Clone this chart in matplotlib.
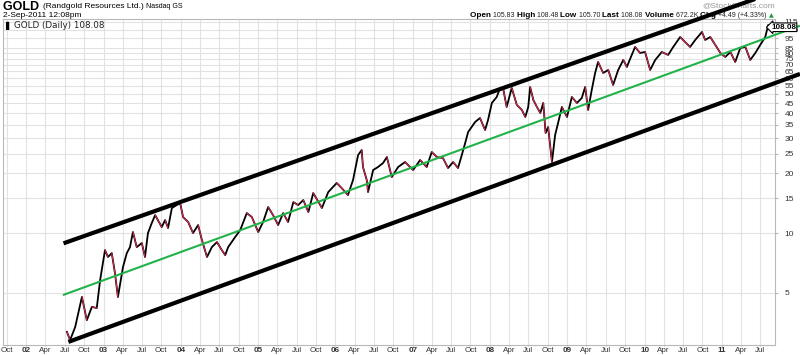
import numpy as np
import matplotlib
matplotlib.use("Agg")
import matplotlib.pyplot as plt
import matplotlib.dates as mdates
from matplotlib.ticker import FixedLocator, NullLocator
from matplotlib.transforms import blended_transform_factory

plt.rcParams["font.family"] = ["Liberation Sans", "DejaVu Sans"]

# GOLD daily close (approximate turning points)
dates = [
    "2002-07-12", "2002-07-27", "2002-08-20", "2002-09-21", "2002-10-14", "2002-11-07", "2002-11-30", "2002-12-16",
    "2003-01-08", "2003-01-22", "2003-02-09", "2003-02-24", "2003-03-10", "2003-04-03", "2003-04-21", "2003-05-06",
    "2003-05-20", "2003-06-07", "2003-07-01", "2003-07-16", "2003-07-30", "2003-08-17", "2003-09-02", "2003-10-03",
    "2003-10-19", "2003-11-02", "2003-11-20", "2003-12-13", "2003-12-29",
    "2004-01-12", "2004-02-05", "2004-02-28", "2004-03-23", "2004-04-10", "2004-05-04", "2004-05-27", "2004-06-20",
    "2004-07-13", "2004-07-29", "2004-08-12", "2004-09-14", "2004-10-08", "2004-11-08", "2004-12-02",
    "2005-01-01", "2005-01-24", "2005-02-17", "2005-03-12", "2005-04-05", "2005-04-29", "2005-05-22", "2005-06-16",
    "2005-07-09", "2005-08-02", "2005-08-26", "2005-09-18", "2005-10-29", "2005-11-28",
    "2006-01-07", "2006-01-30", "2006-03-01", "2006-03-25", "2006-04-18", "2006-05-05", "2006-05-11", "2006-05-29",
    "2006-06-04", "2006-06-28", "2006-07-21", "2006-08-14", "2006-09-01", "2006-09-24", "2006-10-24", "2006-11-26",
    "2007-01-03", "2007-02-05", "2007-03-08", "2007-04-01", "2007-04-25", "2007-05-24", "2007-06-17", "2007-07-11",
    "2007-08-03", "2007-08-21", "2007-09-06", "2007-09-20", "2007-10-23", "2007-11-15", "2007-12-09", "2007-12-23",
    "2008-01-10", "2008-02-02", "2008-02-18", "2008-03-03", "2008-03-20", "2008-04-13", "2008-05-07", "2008-05-31",
    "2008-06-16", "2008-06-30", "2008-07-09", "2008-07-24", "2008-08-10", "2008-08-26", "2008-09-09", "2008-09-20",
    "2008-10-02", "2008-10-20", "2008-11-04", "2008-11-18", "2008-12-06", "2008-12-30",
    "2009-01-22", "2009-02-15", "2009-03-10", "2009-03-26", "2009-04-09", "2009-04-26", "2009-05-12", "2009-05-26",
    "2009-06-19", "2009-07-13", "2009-08-05", "2009-08-29", "2009-09-22", "2009-10-09", "2009-11-01", "2009-11-17",
    "2009-12-10",
    "2010-01-03", "2010-01-27", "2010-02-20", "2010-03-23", "2010-04-22", "2010-05-16", "2010-06-18", "2010-07-11",
    "2010-08-04", "2010-08-28", "2010-09-29", "2010-10-14", "2010-11-07", "2010-12-01", "2010-12-25",
    "2011-01-17", "2011-02-10", "2011-03-05", "2011-03-29", "2011-04-22", "2011-05-15", "2011-06-08", "2011-07-01",
    "2011-07-25", "2011-08-08", "2011-08-25", "2011-09-02",
]
prices = [
    3.19, 2.90, 3.37, 4.78, 3.65, 4.26, 4.20, 5.81,
    8.21, 7.58, 7.93, 6.30, 4.77, 6.75, 7.93, 8.50,
    10.12, 8.50, 8.91, 7.58, 10.00, 11.23, 12.31, 10.72,
    11.62, 10.60, 13.36, 13.82, 14.15,
    12.03, 11.36, 10.00, 10.97, 9.22, 7.58, 8.50, 9.01,
    8.21, 7.75, 8.50, 9.55, 10.35, 12.60, 12.03,
    10.12, 11.36, 13.51, 12.31, 10.97, 12.60, 11.36, 14.31,
    13.82, 14.65, 12.75, 15.89, 13.36, 16.07,
    17.84, 16.84, 15.52, 18.46, 24.66, 26.12, 21.46, 18.46,
    16.07, 20.73, 21.46, 22.48, 24.09, 19.11, 21.46, 22.74,
    20.73, 23.27, 21.46, 25.53, 24.09, 23.81, 21.21, 22.74,
    21.21, 24.66, 28.34, 32.18, 36.13, 37.84, 32.93, 36.97,
    45.01, 48.25, 53.55, 53.55, 42.98, 53.55, 43.99, 41.51,
    38.28, 42.98, 54.17, 46.60, 42.98, 40.09, 45.01, 31.81,
    34.09, 22.74, 31.08, 35.71, 42.98, 38.28,
    48.25, 45.01, 47.69, 54.17, 41.51, 52.33, 63.68, 72.33,
    63.68, 65.95, 55.44, 65.95, 74.03, 68.28, 78.44, 86.04,
    80.26,
    81.20, 65.95, 74.03, 81.20, 78.44, 86.04, 96.58, 91.17,
    86.04, 93.29, 102.35, 93.29, 96.58, 88.03, 80.26,
    76.63, 81.20, 72.33, 85.05, 86.04, 74.03, 80.26, 88.03,
    96.58, 110.97, 102.35, 108.08,
]

# trend channel: (start date, start price, end date, end price)
upper_line = ["2002-06-26", 8.88, "2012-01-05", 180.0]
middle_line = ["2002-06-23", 4.88, "2012-01-05", 110.0]
lower_line = ["2002-07-19", 2.84, "2012-01-05", 63.0]

ytick_values = [5, 10, 15, 20, 25, 30, 35, 40, 45, 50, 55, 60, 65, 70, 75, 80, 85, 95, 105, 115]
xtick_dates = ["2001-10-01", "2002-01-01", "2002-04-01", "2002-07-01", "2002-10-01",
               "2003-01-01", "2003-04-01", "2003-07-01", "2003-10-01",
               "2004-01-01", "2004-04-01", "2004-07-01", "2004-10-01",
               "2005-01-01", "2005-04-01", "2005-07-01", "2005-10-01",
               "2006-01-01", "2006-04-01", "2006-07-01", "2006-10-01",
               "2007-01-01", "2007-04-01", "2007-07-01", "2007-10-01",
               "2008-01-01", "2008-04-01", "2008-07-01", "2008-10-01",
               "2009-01-01", "2009-04-01", "2009-07-01", "2009-10-01",
               "2010-01-01", "2010-04-01", "2010-07-01", "2010-10-01",
               "2011-01-01", "2011-04-01", "2011-07-01"]
month_names = {"04": "Apr", "07": "Jul", "10": "Oct"}

W, H = 800, 355
fig = plt.figure(figsize=(W / 100, H / 100), dpi=100)
ax = fig.add_axes([3 / W, 1 - 345 / H, 772 / W, 326 / H])


def fx(px):
    return px / W


def fy(py):
    return 1 - py / H


x = mdates.date2num(np.array(dates, dtype="datetime64[D]"))
y = np.array(prices)

ax.set_yscale("log")
ax.set_ylim(2.74, 118.9)
ax.set_xlim(mdates.date2num(np.datetime64("2001-09-13")), mdates.date2num(np.datetime64("2011-09-09")))

# price line: black, down moves traced in red
ax.plot(x, y, color="black", lw=1.3, zorder=3)
for i in range(len(x) - 1):
    if y[i + 1] < y[i]:
        ax.plot(x[i:i + 2], y[i:i + 2], color="#ee2a55", lw=0.7, zorder=3.5)

# channel lines (not clipped, they run off the frame like the original)
for line, col, lw in [(upper_line, "black", 3.0), (lower_line, "black", 3.0), (middle_line, "#22b24a", 1.5)]:
    lx = mdates.date2num(np.array([line[0], line[2]], dtype="datetime64[D]"))
    ax.plot(lx, [line[1], line[3]], color=col, lw=lw, clip_on=False, zorder=5, solid_capstyle="butt")

# axes styling
for s in ax.spines.values():
    s.set_color("#b8b8b8")
    s.set_linewidth(0.8)
ax.grid(True, which="major", color="#e2e2e2", lw=0.8)
ax.set_axisbelow(True)

ax.yaxis.tick_right()
ax.yaxis.set_major_locator(FixedLocator(ytick_values))
ax.yaxis.set_minor_locator(NullLocator())
ax.set_yticklabels([str(v) for v in ytick_values])
ax.tick_params(axis="y", which="major", length=2, pad=5, labelsize=6, colors="#b8b8b8", labelcolor="#333333")

xt = mdates.date2num(np.array(xtick_dates, dtype="datetime64[D]"))
ax.xaxis.set_major_locator(FixedLocator(xt))
ax.xaxis.set_minor_locator(NullLocator())
labels = []
for d in xtick_dates:
    m = d[5:7]
    labels.append(d[2:4] if m == "01" else month_names[m])
ax.set_xticklabels(labels)
for lab, d in zip(ax.get_xticklabels(), xtick_dates):
    if d[5:7] == "01":
        lab.set_fontweight("bold")
ax.tick_params(axis="x", which="major", length=1, pad=0.5, labelsize=5.8, colors="#b8b8b8", labelcolor="#333333")

# header texts (drawn below the channel lines)
tf = fig.transFigure
renderer = fig.canvas.get_renderer()


def chain(parts, x0, ypx):
    cur = x0
    for txt, size, weight, color in parts:
        t = ax.text(fx(cur), fy(ypx), txt, transform=tf, fontsize=size, fontweight=weight, color=color,
                    va="center", zorder=1, clip_on=False)
        cur += t.get_window_extent(renderer).width
    return cur


chain([("GOLD ", 9, "bold", "black"), ("(Randgold Resources Ltd.) ", 6, "normal", "black"),
       ("Nasdaq GS", 5, "normal", "black")], 3, 6.5)
ax.text(fx(3), fy(15.5), "2-Sep-2011 12:08pm", transform=tf, fontsize=6, va="center", zorder=1, clip_on=False)
ax.text(fx(775), fy(5.5), "@StockCharts.com", transform=tf, fontsize=6, color="#999999", ha="right", va="center",
        zorder=1, clip_on=False)

end = chain([("Open ", 5.9, "bold", "black"), ("105.83 ", 5.0, "normal", "#222222"),
             ("High ", 5.9, "bold", "black"), ("108.48 ", 5.0, "normal", "#222222"),
             ("Low ", 5.9, "bold", "black"), ("105.70 ", 5.0, "normal", "#222222"),
             ("Last ", 5.9, "bold", "black"), ("108.08 ", 5.0, "normal", "#222222"),
             ("Volume ", 5.9, "bold", "black"), ("672.2K ", 5.0, "normal", "#222222"),
             ("Chg ", 5.9, "bold", "black"), ("+4.49 (+4.33%) ", 5.0, "normal", "#222222")], 470, 15.5)
ax.text(fx(end), fy(15.5), "\u25b2", transform=tf, fontsize=4.5, color="#1f9a3a", va="center", ha="left",
        zorder=1, clip_on=False, family="DejaVu Sans")

# legend
ax.text(fx(5), fy(25.5), "\u258c", transform=tf, fontsize=6, va="center", zorder=6, clip_on=False,
        family="DejaVu Sans")
ax.text(fx(14), fy(25.5), "GOLD (Daily) 108.08", transform=tf, fontsize=6.3, va="center", zorder=6,
        clip_on=False, color="#222222", family="DejaVu Sans")

# last price box on the right scale
bt = blended_transform_factory(tf, ax.transData)
ax.text(fx(771), prices[-1], "108.08", transform=bt, fontsize=5.8, fontweight="bold", va="center", ha="left",
        zorder=7, clip_on=False,
        bbox=dict(boxstyle="larrow,pad=0.1", fc="white", ec="black", lw=0.8))

fig.savefig("out.png", dpi=100)
